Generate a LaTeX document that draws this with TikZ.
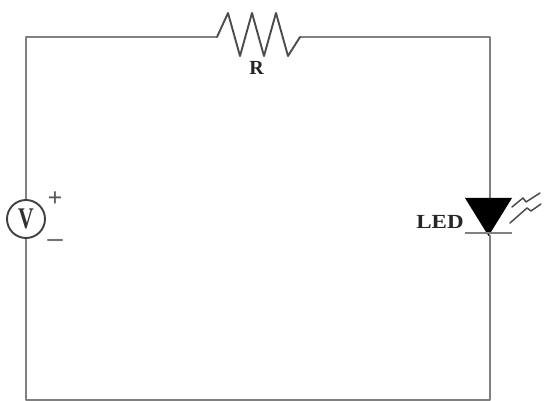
\documentclass[tikz,border=0pt]{standalone}
\usepackage{fontspec}
\setmainfont{Liberation Serif}
\begin{document}
\begin{tikzpicture}[x=1pt,y=-1pt,line join=round,line cap=round,
 wire/.style={draw=black!50,line width=2.2pt,line cap=butt},
 sym/.style={draw=black!70,line width=1.9pt},
 lbl/.style={inner sep=0pt,font=\bfseries\fontsize{20}{20}\selectfont,text=black!85}]
 \useasboundingbox (0,0) rectangle (544,401);
 % corners
 \coordinate (tl) at (26,37);
 \coordinate (tr) at (490,37);
 \coordinate (br) at (490,400);
 \coordinate (bl) at (26,400);
 \coordinate (resin) at (217,37);
 \coordinate (resout) at (300,37);
 \coordinate (ledtop) at (490,198);
 \coordinate (ledbot) at (490,235);
 \node[circle,sym,draw=black!75,inner sep=0pt,minimum size=38pt] (src) at (26,219) {};
 \node[inner sep=0pt,text=black!80,font=\bfseries\fontsize{30}{30}\selectfont,xscale=0.72] (srcv) at (26,218.5) {V};
 \node[inner sep=0pt,font=\bfseries\fontsize{26}{26}\selectfont,text=black!65] (plus) at (55,199) {+};
 \node[inner sep=0pt,font=\bfseries\fontsize{30}{30}\selectfont,text=black!55] (minus) at (55,243) {\textendash};
 \node[lbl] (rlabel) at (256.5,68) {R};
 \node[lbl,xscale=1.15] (ledlabel) at (440,222) {LED};
 % wires
 \draw[wire] (src.north) -- (tl) -- (resin);
 \draw[wire] (resout) -- (tr) -- (ledtop);
 \draw[wire] (ledbot) -- (br) -- (bl) -- (src.south);
 % resistor
 \draw[sym] (resin) -- (228,13) -- (240,56) -- (252,13) -- (264,56) -- (276,13) -- (288,56) -- (resout);
 % led
 \fill[black] (465,198) -- (512,198) -- (488.5,236) -- cycle;
 \draw[wire,line width=1.8pt] (465,233) -- (512,233);
 \draw[sym,line width=1.5pt] (512,207) -- (523,198) -- (526,202) -- (540,193);
 \draw[sym,line width=1.5pt] (510,223) -- (527,208) -- (531,211) -- (541,204);
\end{tikzpicture}
\end{document}
